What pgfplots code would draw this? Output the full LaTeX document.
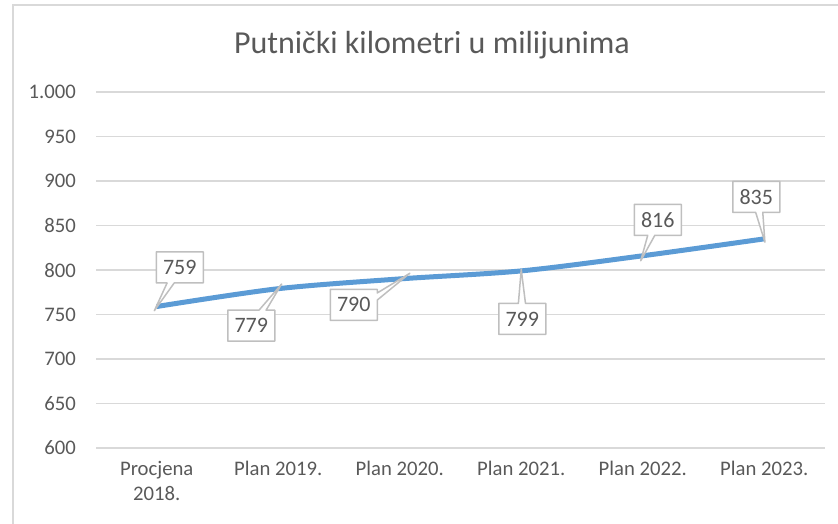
\documentclass[border=0pt]{standalone}
\usepackage{fontspec}
\setmainfont{Carlito}
\usepackage{pgfplots}
\pgfplotsset{compat=1.18}
\usetikzlibrary{shapes.callouts}
\definecolor{linec}{HTML}{5B9BD5}
\definecolor{txt}{HTML}{595959}
\definecolor{gridc}{HTML}{D9D9D9}
\definecolor{boxc}{HTML}{BFBFBF}
\begin{document}
\begin{tikzpicture}[x=1pt,y=1pt]
  % picture area in pixels of the reference, y downwards
  \path[use as bounding box] (0,0) rectangle (838,-523);
  \draw[gridc, line width=2pt] (13,-5) rectangle (850,-540);
  \node[text=txt, font=\fontsize{32}{38}\selectfont] at (432,-45) {Putnički kilometri u milijunima};
  \begin{axis}[
    at={(96pt,-448pt)}, anchor=south west,
    scale only axis,
    width=729pt, height=356pt,
    xmin=-0.5, xmax=5.5,
    ymin=600, ymax=1000,
    ytick={600,650,...,1000},
    xtick={0,1,2,3,4,5},
    xticklabels={{Procjena\\2018.},{Plan 2019.},{Plan 2020.},{Plan 2021.},{Plan 2022.},{Plan 2023.}},
    axis line style={draw=none},
    major tick style={draw=none},
    ymajorgrids,
    grid style={gridc, line width=1.4pt},
    /pgf/number format/assume math mode=true,
    /pgf/number format/1000 sep={.},
    tick label style={text=txt, font=\fontsize{20.7}{25}\selectfont},
    yticklabel style={anchor=east, inner sep=0pt, xshift=-20pt},
    xticklabel style={anchor=north, align=center, inner sep=0pt, yshift=-13pt},
  ]
    % dx dy: label box offset; rx ry: callout pointer (scaled to land on the point)
    \addplot[linec, line width=5pt, smooth,
      visualization depends on={value \thisrow{dx}\as\dx},
      visualization depends on={value \thisrow{dy}\as\dy},
      visualization depends on={value \thisrow{rx}\as\rx},
      visualization depends on={value \thisrow{ry}\as\ry},
      nodes near coords,
      nodes near coords style={rectangle callout, draw=boxc, line width=1.5pt,
        line join=round,
        fill=white, text=txt, font=\fontsize{22}{26}\selectfont,
        minimum width=47pt, minimum height=31pt, inner sep=2pt,
        callout relative pointer={(\rx pt,\ry pt)},
        anchor=center, xshift=\dx pt, yshift=\dy pt},
    ] table {
      x y dx dy rx ry
      0 759 23 39 -16.3 -27.7
      1 779 -27 -37 19.1 26.2
      2 790 -46 -26 32.6 18.4
      3 799 1 -48 -0.7 34.0
      4 816 15 36 -10.6 -25.5
      5 835 -8 42 5.7 -29.8
    };
  \end{axis}
\end{tikzpicture}
\end{document}
